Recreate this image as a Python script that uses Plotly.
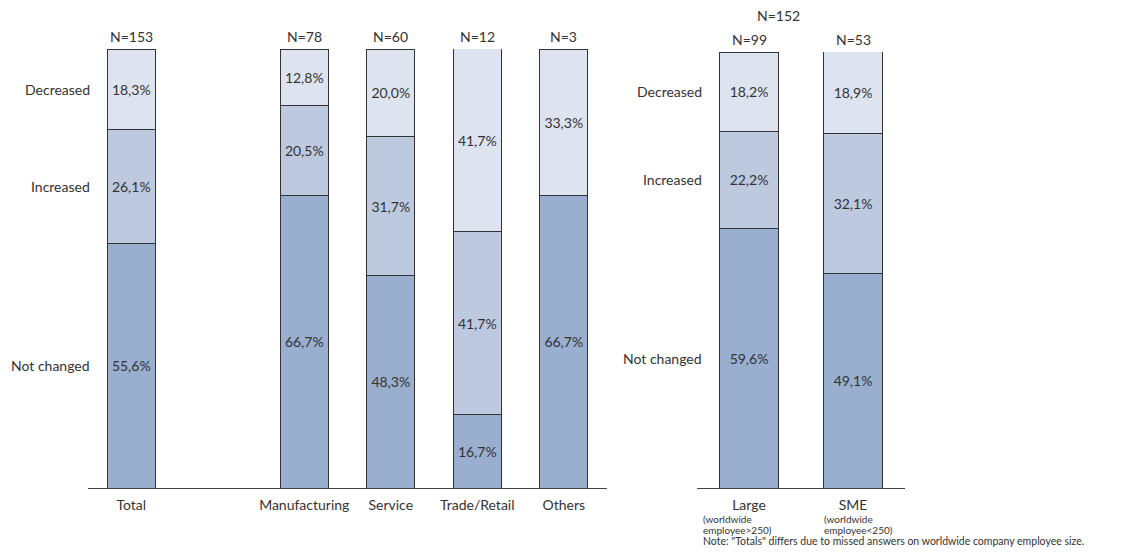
import plotly.graph_objects as go

# ---- data ----
left_cats = ["Total", " ", "Manufacturing", "Service", "Trade/Retail", "Others"]
left_n = ["N=153", "", "N=78", "N=60", "N=12", "N=3"]
left_not_changed = [55.6, None, 66.7, 48.3, 16.7, 66.7]
left_increased = [26.1, None, 20.5, 31.7, 41.7, 0.0]
left_decreased = [18.3, None, 12.8, 20.0, 41.7, 33.3]

right_cats = ["Large", "SME"]
right_sub = [["(worldwide", "employee>250)"], ["(worldwide", "employee<250)"]]
right_n = ["N=99", "N=53"]
right_total = "N=152"
right_not_changed = [59.6, 49.1]
right_increased = [22.2, 32.1]
right_decreased = [18.2, 18.9]

series_names = ["Not changed", "Increased", "Decreased"]
colors = ["#9aaecf", "#bdc9df", "#dee4ef"]
note = 'Note: "Totals" differs due to missed answers on worldwide company employee size.'

FONT = "Lato"
TXT = "#333333"
FS = 14
FS_SMALL = 10

# page has an 8px body margin; figure sized to fit the window
W, H = 1112, 541


def px(x):
    return (x - 8) / W


def py(y):
    return (H - (y - 8)) / H


def fmt(v):
    if v is None or v == 0:
        return ""
    return f"{v:.1f}".replace(".", ",") + "%"


fig = go.Figure()

left_vals = [left_not_changed, left_increased, left_decreased]
right_vals = [right_not_changed, right_increased, right_decreased]

for name, vals, col in zip(series_names, left_vals, colors):
    fig.add_trace(go.Bar(
        x=left_cats, y=vals, name=name, marker=dict(color=col, line=dict(color="#333333", width=1)),
        text=[fmt(v) for v in vals], textposition="inside", insidetextanchor="middle",
        textangle=0, textfont=dict(family=FONT, size=FS, color=TXT),
        width=0.56, xaxis="x", yaxis="y", showlegend=False, hoverinfo="skip"))

for name, vals, col in zip(series_names, right_vals, colors):
    fig.add_trace(go.Bar(
        x=right_cats, y=vals, name=name, marker=dict(color=col, line=dict(color="#333333", width=1)),
        text=[fmt(v) for v in vals], textposition="inside", insidetextanchor="middle",
        textangle=0, textfont=dict(family=FONT, size=FS, color=TXT),
        width=0.56, xaxis="x2", yaxis="y2", showlegend=False, hoverinfo="skip"))

annotations = []
# N labels
for c, n in zip(left_cats, left_n):
    if n:
        annotations.append(dict(x=c, y=100, xref="x", yref="y", text=n, showarrow=False,
                                yanchor="bottom", yshift=2, font=dict(family=FONT, size=FS, color=TXT)))
for c, n in zip(right_cats, right_n):
    annotations.append(dict(x=c, y=100, xref="x2", yref="y2", text=n, showarrow=False,
                            yanchor="bottom", yshift=2, font=dict(family=FONT, size=FS, color=TXT)))
annotations.append(dict(x=px(802), y=py(16), xref="paper", yref="paper", text=right_total,
                        showarrow=False, yanchor="middle", font=dict(family=FONT, size=FS, color=TXT)))


# row labels aligned with first bar's segments
def row_labels(vals_first, xpos, yref):
    base = 0
    out = []
    for name, v in zip(series_names, vals_first):
        mid = base + v / 2
        base += v
        out.append(dict(x=xpos, y=mid, xref="paper", yref=yref, text=name, showarrow=False,
                        xanchor="right", yanchor="middle", font=dict(family=FONT, size=FS, color=TXT)))
    return out


annotations += row_labels([left_not_changed[0], left_increased[0], left_decreased[0]], px(92), "y")
annotations += row_labels([right_not_changed[0], right_increased[0], right_decreased[0]], px(704), "y2")

# sub-labels under Large / SME
for xpx, lines in zip([702, 823], right_sub):
    for ypx, s in zip([519, 529.5], lines):
        annotations.append(dict(x=px(xpx), y=py(ypx), xref="paper", yref="paper", text=s,
                                showarrow=False, xanchor="left", yanchor="middle", align="left",
                                borderpad=0, font=dict(family=FONT, size=FS_SMALL, color=TXT)))
annotations.append(dict(x=px(702), y=py(540.5), xref="paper", yref="paper", text=note,
                        showarrow=False, xanchor="left", yanchor="middle", align="left",
                        borderpad=0, font=dict(family=FONT, size=FS_SMALL + 0.5, color=TXT)))

axis_common = dict(showgrid=False, zeroline=False, ticks="", showline=True, linecolor="#404040",
                   linewidth=1, tickfont=dict(family=FONT, size=FS, color=TXT), type="category",
                   ticklabelstandoff=4)

fig.update_layout(
    width=W, height=H,
    margin=dict(l=0, r=0, t=0, b=0),
    paper_bgcolor="white", plot_bgcolor="white",
    barmode="stack",
    xaxis=dict(domain=[px(88), px(607)], anchor="y", range=[-0.5, 5.5], **axis_common),
    yaxis=dict(domain=[py(488), py(49)], range=[0, 100], visible=False, anchor="x"),
    xaxis2=dict(domain=[px(697), px(905)], anchor="y2", range=[-0.5, 1.5], **axis_common),
    yaxis2=dict(domain=[py(488), py(52)], range=[0, 100], visible=False, anchor="x2"),
    annotations=annotations,
    font=dict(family=FONT, color=TXT),
)

fig.write_html("out.html")
